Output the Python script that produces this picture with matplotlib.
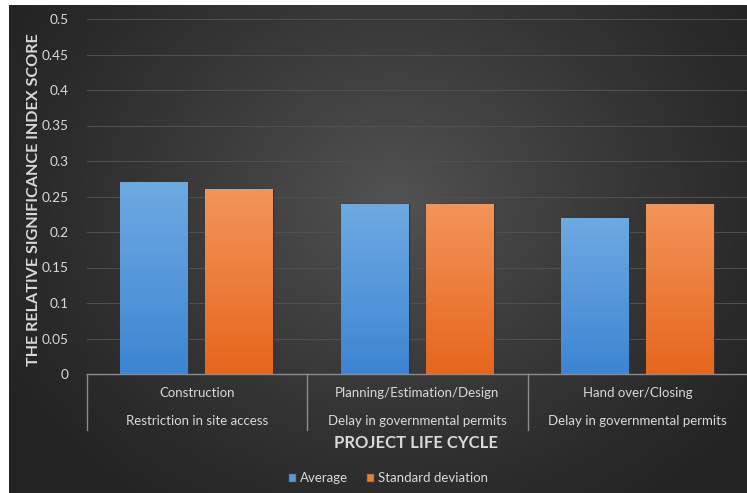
import numpy as np
import matplotlib
matplotlib.use("Agg")
import matplotlib.pyplot as plt
from matplotlib.colors import LinearSegmentedColormap
import matplotlib.transforms as mtransforms

# ---- data ----
phases = ["Construction", "Planning/Estimation/Design", "Hand over/Closing"]
factors = ["Restriction in site access", "Delay in governmental permits",
           "Delay in governmental permits"]
average = [0.27, 0.24, 0.22]
std_dev = [0.26, 0.24, 0.24]
series_names = ["Average", "Standard deviation"]
yticks = [0, 0.05, 0.1, 0.15, 0.2, 0.25, 0.3, 0.35, 0.4, 0.45, 0.5]

plt.rcParams["font.family"] = ["Lato", "DejaVu Sans"]
TEXT = "#d9d9d9"

W, H = 747, 493
fig = plt.figure(figsize=(W / 100, H / 100), dpi=100, facecolor="white")

# dark radial-gradient backdrop
bg = fig.add_axes([9 / W, 0, (W - 9) / W, (H - 5) / H], zorder=-5)
ny, nx = 244, 369
yy, xx = np.mgrid[0:ny, 0:nx]
cx, cy = 0.52 * nx, 0.4 * ny
r = np.sqrt(((xx - cx) / (0.62 * nx)) ** 2 + ((yy - cy) / (0.8 * ny)) ** 2)
shade = 0x23 + (0x52 - 0x23) * np.clip(1 - r, 0, 1) ** 1.2
img = np.dstack([shade, shade, shade]) / 255.0
bg.imshow(img, aspect="auto", interpolation="bilinear")
bg.axis("off")

# plot area
left = 86.5 / W
bottom = (H - 374) / H
top = (H - 19) / H
ax = fig.add_axes([left, bottom, (748 - 86.5) / W, top - bottom])
ax.set_facecolor("none")

x = np.arange(len(phases))
bw = 68 / 220.5
off = 42.5 / 220.5

blue_cmap = LinearSegmentedColormap.from_list("b", ["#3d85d2", "#6eaae2"])
orange_cmap = LinearSegmentedColormap.from_list("o", ["#e6661c", "#f3945a"])
grad = np.linspace(0, 1, 256).reshape(-1, 1)


def gradient_bars(xpos, vals, cmap, label, solid):
    bars = ax.bar(xpos, vals, width=bw, color=solid, label=label, zorder=2,
                  edgecolor="#363636", linewidth=1.0)
    for b in bars:
        x0, y0 = b.get_x(), b.get_y()
        w, h = b.get_width(), b.get_height()
        im = ax.imshow(grad, cmap=cmap, aspect="auto", origin="lower",
                       extent=[x0, x0 + w, y0, y0 + h], zorder=3)
        im.set_clip_path(b)
    return bars


gradient_bars(x - off, average, blue_cmap, series_names[0], "#5b9bd5")
gradient_bars(x + off, std_dev, orange_cmap, series_names[1], "#ed7d31")
ax.set_xlim(-0.5, 2.5)
ax.set_ylim(0, 0.5)

# grid and axis lines
ax.set_yticks(yticks)
ax.set_yticklabels([f"{t:g}" for t in yticks])
ax.yaxis.grid(True, color="#4f4f4f", linewidth=0.8, zorder=0)
ax.set_axisbelow(True)
for s in ["top", "right", "left"]:
    ax.spines[s].set_visible(False)
ax.spines["bottom"].set_color("#8c8c8c")
ax.spines["bottom"].set_linewidth(1.0)
ax.spines["bottom"].set_zorder(4)
ax.tick_params(axis="y", length=0, colors=TEXT, labelsize=9.8, pad=13)
ax.tick_params(axis="x", length=0, labelbottom=False)

# two-level category labels
trans = mtransforms.blended_transform_factory(ax.transData, ax.transAxes)
for i in range(len(phases)):
    ax.text(i, -19 / 355, phases[i], transform=trans, ha="center", va="center",
            color=TEXT, fontsize=9.5)
    ax.text(i, -47 / 355, factors[i], transform=trans, ha="center", va="center",
            color=TEXT, fontsize=9.5)
for xb in [-0.5, 0.5, 1.5]:
    ax.plot([xb, xb], [0, -56 / 355], transform=trans, color="#8c8c8c",
            linewidth=1.0, clip_on=False)

fig.text(416 / W, 1 - 443 / H, "PROJECT LIFE CYCLE", ha="center", va="center",
         color=TEXT, fontsize=12, fontweight="bold")
fig.text(34 / W, 1 - 200 / H, "THE RELATIVE SIGNIFICANCE INDEX SCORE",
         rotation=90, ha="center", va="center", color=TEXT, fontsize=11.6,
         fontweight="bold")

leg = fig.legend(loc="center", bbox_to_anchor=(388 / W, 1 - 478 / H), ncol=2,
                 frameon=False, fontsize=9.5, handlelength=0.6, handleheight=0.6,
                 handletextpad=0.3, columnspacing=1.4, labelcolor=TEXT)

fig.savefig("out.png", dpi=100, facecolor="white")
